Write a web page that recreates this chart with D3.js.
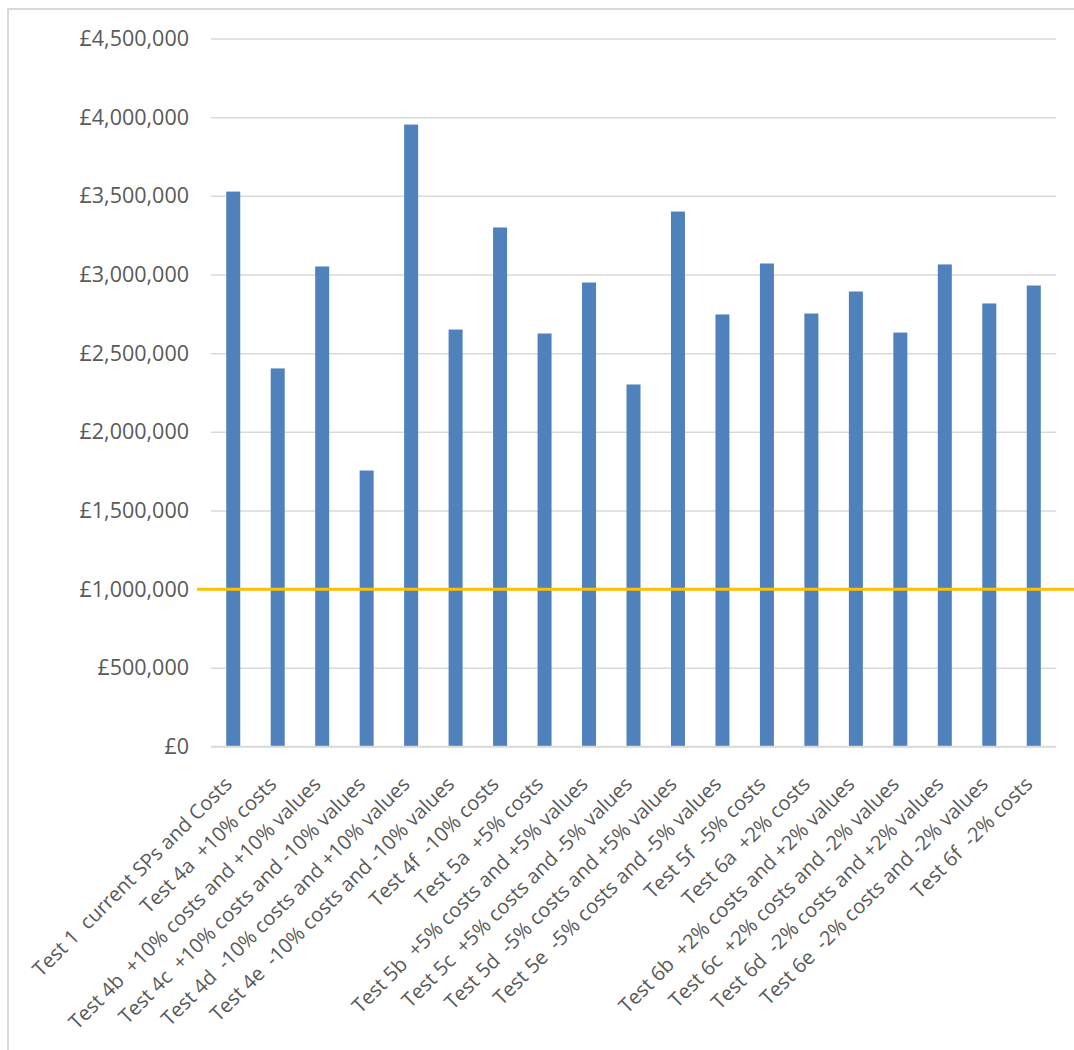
<!DOCTYPE html>
<html>
<head>
<meta charset="utf-8">
<script src="https://cdn.jsdelivr.net/npm/d3@7"></script>
<style>
  html, body { margin: 0; padding: 0; background: #fff; }
  svg { display: block; }
  text { white-space: pre; }
</style>
</head>
<body>
<svg id="chart" width="1074" height="1050"></svg>
<script>
const categories = [
  "Test 1  current SPs and Costs",
  "Test 4a  +10% costs",
  "Test 4b  +10% costs and +10% values",
  "Test 4c  +10% costs and -10% values",
  "Test 4d  -10% costs and +10% values",
  "Test 4e  -10% costs and -10% values",
  "Test 4f  -10% costs",
  "Test 5a  +5% costs",
  "Test 5b  +5% costs and +5% values",
  "Test 5c  +5% costs and -5% values",
  "Test 5d  -5% costs and +5% values",
  "Test 5e  -5% costs and -5% values",
  "Test 5f  -5% costs",
  "Test 6a  +2% costs",
  "Test 6b  +2% costs and +2% values",
  "Test 6c  +2% costs and -2% values",
  "Test 6d  -2% costs and +2% values",
  "Test 6e  -2% costs and -2% values",
  "Test 6f  -2% costs"
];
const values = [
  3527000, 2403000, 3051000, 1754000, 3953000, 2650000, 3299000, 2625000,
  2949000, 2301000, 3400000, 2746000, 3070000, 2752000, 2892000, 2631000,
  3064000, 2816000, 2930000
];
const yTicks = [0, 500000, 1000000, 1500000, 2000000, 2500000, 3000000, 3500000, 4000000, 4500000];
const thresholdValue = 1000000;

const svg = d3.select("#chart");
const W = 1074, H = 1050;
const plot = { left: 211, right: 1056, top: 38.5, bottom: 746.5 };

// chart border (partly outside the page)
svg.append("rect")
  .attr("x", 8).attr("y", 9)
  .attr("width", W + 20).attr("height", H + 20)
  .attr("fill", "#fff").attr("stroke", "#d9d9d9").attr("stroke-width", 2);

const x = d3.scaleBand()
  .domain(categories)
  .range([plot.left, plot.right])
  .paddingInner(0.685)
  .paddingOuter(0.685 / 2);

const y = d3.scaleLinear()
  .domain([0, 4500000])
  .range([plot.bottom, plot.top]);

const fmt = v => "£" + d3.format(",")(v);

// gridlines + y labels
const yAxis = d3.axisLeft(y)
  .tickValues(yTicks)
  .tickSize(-(plot.right - plot.left))
  .tickPadding(22)
  .tickFormat(fmt);

const gy = svg.append("g")
  .attr("transform", `translate(${plot.left},0)`)
  .call(yAxis);
gy.select(".domain").remove();
gy.selectAll(".tick line").attr("stroke", "#d9d9d9").attr("stroke-width", 1.5);
gy.selectAll(".tick text")
  .attr("fill", "#595959")
  .style("font-family", "'Open Sans', sans-serif")
  .style("font-size", "21.5px");

// bars
svg.append("g").selectAll("rect")
  .data(values)
  .join("rect")
  .attr("x", (d, i) => x(categories[i]))
  .attr("y", d => y(d))
  .attr("width", x.bandwidth())
  .attr("height", d => y(0) - y(d))
  .attr("fill", "#4f81bd");

// x axis labels
const xAxis = d3.axisBottom(x).tickSize(0).tickPadding(0);
const gx = svg.append("g")
  .attr("transform", `translate(0,${plot.bottom})`)
  .call(xAxis);
gx.select(".domain").attr("stroke", "#d9d9d9").attr("stroke-width", 1.5)
  .attr("d", `M${plot.left},0H${plot.right}`);
gx.selectAll(".tick text")
  .attr("fill", "#595959")
  .style("font-family", "'Open Sans', sans-serif")
  .style("font-size", "20.2px")
  .attr("text-anchor", "end")
  .attr("dy", null)
  .attr("y", 0)
  .attr("transform", "translate(0,39) rotate(-45)");

// threshold line
svg.append("line")
  .attr("x1", 197).attr("x2", W)
  .attr("y1", y(thresholdValue)).attr("y2", y(thresholdValue))
  .attr("stroke", "#ffc000").attr("stroke-width", 3);
</script>
</body>
</html>
